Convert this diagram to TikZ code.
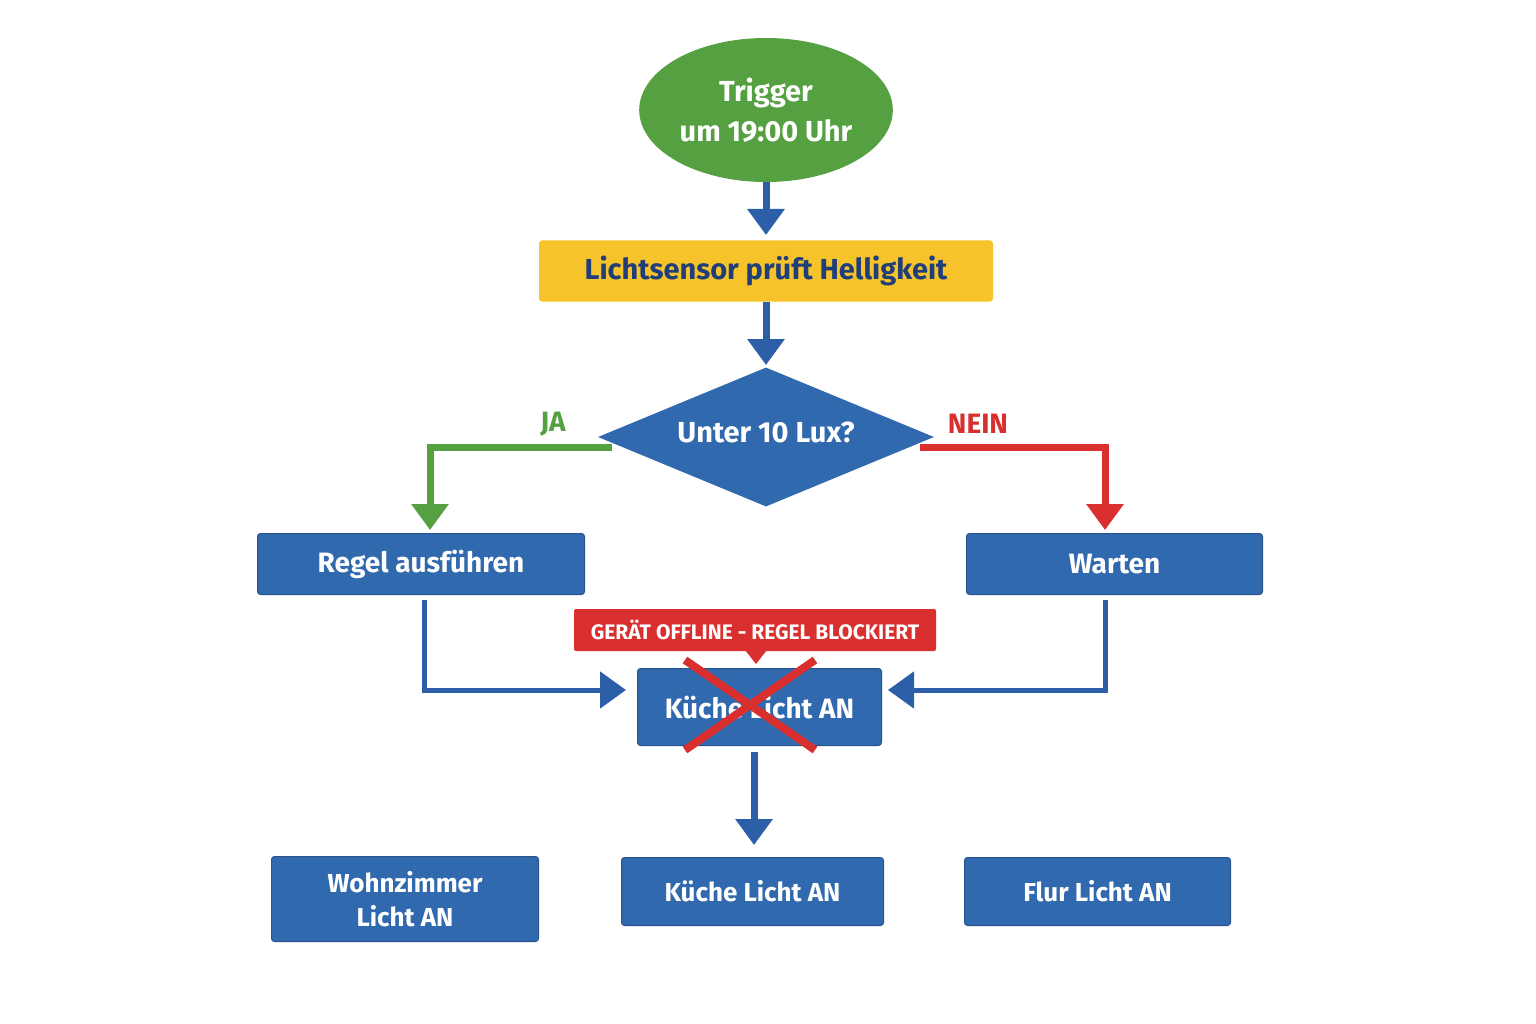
\documentclass[tikz,border=0pt]{standalone}
\usepackage{fontspec}
\setmainfont{Fira Sans}
\usetikzlibrary{shapes.geometric,arrows.meta}
\definecolor{bl}{HTML}{3169AF}
\definecolor{ar}{HTML}{2C5FA8}
\definecolor{gr}{HTML}{55A040}
\definecolor{ye}{HTML}{F6C42A}
\definecolor{dk}{HTML}{1F3E7A}
\definecolor{rd}{HTML}{D9302F}
\begin{document}
\begin{tikzpicture}[x=1pt,y=-1pt,
 box/.style={draw=bl!80!black,line width=1pt,fill=bl,rounded corners=3pt,text=white,font=\fontsize{28}{30}\selectfont\bfseries,align=center,anchor=north west,inner sep=0pt},
 arr/.style={line width=7pt,draw=ar,-{Triangle[width=36pt,length=26pt]}},
 >={Triangle[width=36pt,length=26pt]}]
\useasboundingbox (0,0) rectangle (1536,1024);
\fill[white] (0,0) rectangle (1536,1024);
\node[ellipse,fill=gr,minimum width=206pt,minimum height=144pt,text=white,align=center,font=\fontsize{29}{40}\selectfont\bfseries] (trig) at (766,110) {Trigger\\um 19:00 Uhr};
\node[fill=ye,rounded corners=3pt,minimum width=454pt,minimum height=61pt,text=dk,font=\fontsize{29}{30}\selectfont\bfseries] (sens) at (766,271) {Lichtsensor prüft Helligkeit};
\node[diamond,fill=bl,minimum width=336pt,minimum height=139pt,aspect=2.4,inner sep=0pt,text=white,font=\fontsize{29}{30}\selectfont\bfseries] (dec) at (766,437) {};
\node[text=white,font=\fontsize{29}{30}\selectfont\bfseries] (dect) at (766,432) {Unter 10 Lux?};
\node[box,minimum width=327pt,minimum height=61pt] (regel) at (257,533) {Regel ausführen};
\node[box,minimum width=296pt,minimum height=61pt] (wart) at (966,533) {Warten};
\node[box,minimum width=244pt,minimum height=77pt] (kue) at (637,668) {Küche Licht AN};
\node[box,minimum width=267pt,minimum height=85pt,font=\fontsize{26}{34}\selectfont\bfseries] (wohn) at (271,856) {Wohnzimmer\\Licht AN};
\node[box,minimum width=262pt,minimum height=68pt,font=\fontsize{26}{30}\selectfont\bfseries] (kue2) at (621,857) {Küche Licht AN};
\node[box,minimum width=266pt,minimum height=68pt,font=\fontsize{26}{30}\selectfont\bfseries] (flur) at (964,857) {Flur Licht AN};
% red label
\node[fill=rd,rounded corners=2pt,minimum width=362pt,minimum height=42pt,text=white,font=\fontsize{21}{24}\selectfont\bfseries,inner sep=0pt] (off) at (755,630) {GERÄT OFFLINE - REGEL BLOCKIERT};
\fill[rd] (745,650) -- (767,650) -- (756,664) -- cycle;
\coordinate (xa) at (685,660); \coordinate (xb) at (815,750);
\coordinate (xc) at (815,660); \coordinate (xd) at (685,750);
\draw[rd,line width=8pt] (xa) -- (xb) (xc) -- (xd);
% arrows
\draw[arr] (trig.south) -- (766,235);
\draw[arr] (sens.south) -- (766,365);
\coordinate (ja1) at (612,447);
\coordinate (ne1) at (920,447);
\draw[arr,draw=gr] (ja1) -- (430,447) -- (430,530);
\draw[arr,draw=rd] (ne1) -- (1105,447) -- (1105,530);
\node[text=gr,font=\fontsize{28}{30}\selectfont\bfseries] (ja) at (553,424) {JA};
\node[text=rd,font=\fontsize{28}{30}\selectfont\bfseries] (nein) at (978,424) {NEIN};
\draw[arr,line width=5pt] (424,600) -- (424,690) -- (626,690);
\draw[arr,line width=5pt] (1105,600) -- (1105,690) -- (888,690);
\draw[arr] (754,752) -- (754,845);
\end{tikzpicture}
\end{document}
